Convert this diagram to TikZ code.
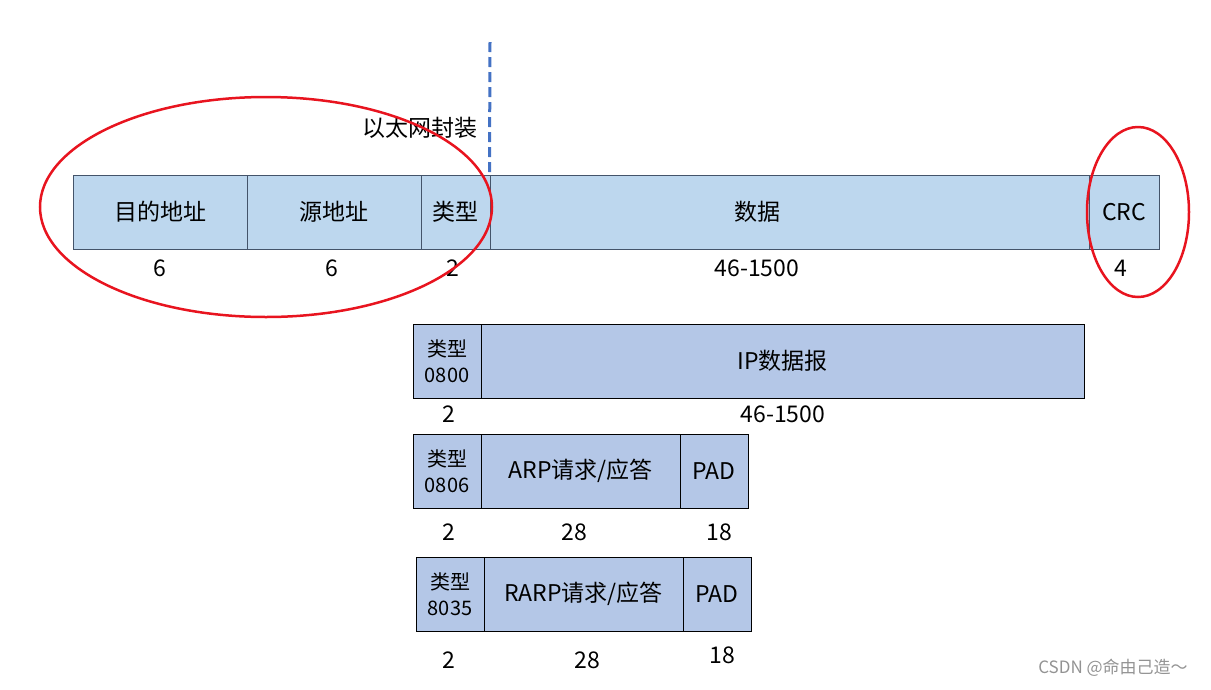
\documentclass[tikz,border=0pt]{standalone}
\usepackage{fontspec}
\setmainfont{Noto Sans CJK SC}
\definecolor{topfill}{HTML}{BDD7EE}
\definecolor{topline}{HTML}{44546A}
\definecolor{subfill}{HTML}{B4C7E7}
\definecolor{ringred}{HTML}{E8141F}
\definecolor{cutblue}{HTML}{4472C4}
\tikzset{
  bigfont/.style={font=\fontsize{23pt}{27pt}\selectfont},
  smallfont/.style={font=\fontsize{20pt}{26pt}\selectfont},
  topfield/.style={draw=topline,fill=topfill,line width=1pt,inner sep=0pt,
    minimum height=74pt,bigfont},
  subfield/.style={draw=black,fill=subfill,line width=1pt,inner sep=0pt,
    minimum height=74pt,bigfont},
  typefield/.style={subfield,minimum width=68pt,smallfont,align=center},
  sizelabel/.style={bigfont,inner sep=0pt},
  ring/.style={draw=ringred,line width=2.5pt},
}
\begin{document}
\begin{tikzpicture}[x=1pt,y=-1pt]
\useasboundingbox (0,0) rectangle (1211,689);

% Ethernet frame
\node[topfield,minimum width=174pt] (dst) at (160,212) {目的地址};
\node[topfield,minimum width=174pt] (src) at (334,212) {源地址};
\node[topfield,minimum width=69pt] (type) at (455.5,212) {类型};
\node[topfield,minimum width=599pt] (data) at (789.5,212) {};
\node[bigfont] (datatext) at (757,212) {数据};
\node[topfield,minimum width=70pt] (crc) at (1124,212) {CRC};

\node[sizelabel] (dstlen) at (160,268) {6};
\node[sizelabel] (srclen) at (332,268) {6};
\node[sizelabel] (typelen) at (453,268) {2};
\node[sizelabel] (datalen) at (757,268) {46-1500};
\node[sizelabel] (crclen) at (1121,268) {4};

% encapsulation boundary
\coordinate (cuttop) at (490,42);
\draw[cutblue,line width=3pt,dash pattern=on 10pt off 5pt] (cuttop) -- (data.north west);
\node[bigfont,anchor=east,inner sep=0pt] (encap) at (478,128) {以太网封装};

% rings
\draw[ring] (266,207) ellipse [x radius=226pt,y radius=110pt];
\draw[ring] (1138,212) ellipse [x radius=51pt,y radius=85pt];

% IP
\node[typefield] (iptype) at (447,361) {类型\\0800};
\node[subfield,minimum width=603pt] (ip) at (782.5,361) {IP数据报};
\node[sizelabel] (iptypelen) at (449,414) {2};
\node[sizelabel] (iplen) at (783,414) {46-1500};

% ARP
\node[typefield] (arptype) at (447,471) {类型\\0806};
\node[subfield,minimum width=199pt] (arp) at (580.5,471) {ARP请求/应答};
\node[subfield,minimum width=68pt] (arppad) at (714,471) {PAD};
\node[sizelabel] (arptypelen) at (449,532) {2};
\node[sizelabel] (arplen) at (574,532) {28};
\node[sizelabel] (arppadlen) at (719,532) {18};

% RARP
\node[typefield] (rarptype) at (450,594) {类型\\8035};
\node[subfield,minimum width=199pt] (rarp) at (583.5,594) {RARP请求/应答};
\node[subfield,minimum width=68pt] (rarppad) at (717,594) {PAD};
\node[sizelabel] (rarptypelen) at (449,660) {2};
\node[sizelabel] (rarplen) at (587,660) {28};
\node[sizelabel] (rarppadlen) at (722,655) {18};

\node[font=\fontsize{17pt}{19pt}\selectfont,text=gray!85,inner sep=0pt] (mark) at (1113,668) {CSDN @命由己造～};
\end{tikzpicture}
\end{document}
